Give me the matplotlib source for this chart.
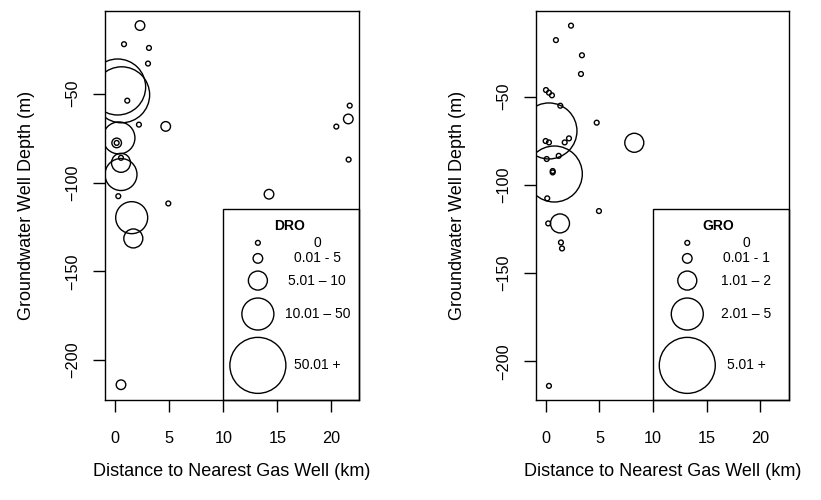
import matplotlib
matplotlib.use("Agg")
import matplotlib.pyplot as plt
from matplotlib.patches import Rectangle

plt.rcParams["font.family"] = ["Liberation Sans", "DejaVu Sans"]

# ── Data ──────────────────────────────────────────────────────────────────────
# category index: 0 = zero, 1..4 = increasing concentration class

dro_dist = [2.29, 0.81, 3.12, 3.03, 0.22, 0.59, 1.11, 2.19, 4.67, 0.34, 0.13, 0.13,
            0.53, 0.53, 0.53, 0.28, 4.91, 1.52, 1.67, 0.53, 21.70, 21.57, 20.46,
            21.60, 14.23]
dro_depth = [-11.6, -22.1, -24.2, -33.0, -46.2, -50.6, -53.9, -67.4, -68.4, -74.9,
             -77.7, -77.7, -86.1, -88.9, -95.5, -107.7, -111.8, -119.8, -131.5,
             -213.9, -56.7, -64.2, -68.5, -87.1, -106.6]
dro_class = [1, 0, 0, 0, 4, 4, 0, 0, 1, 3, 1, 0, 0, 2, 3, 0, 0, 3, 2, 1, 0, 1, 0, 0, 1]
dro_labels = ["0", "0.01 - 5", "5.01 \u2013 10", "10.01 \u2013 50", "50.01 +"]

gro_dist = [2.34, 0.93, 3.36, 3.27, 0.00, 0.28, 0.56, 1.34, 0.28, -0.03, 0.28, 1.75,
            2.15, 4.74, 8.25, 0.78, 0.07, 1.19, 0.63, 0.63, 0.12, 4.95, 0.21, 1.31,
            1.40, 1.50, 0.28]
gro_depth = [-9.7, -17.9, -26.5, -37.1, -46.2, -47.7, -49.2, -55.1, -69.4, -75.1,
             -75.9, -75.9, -73.6, -64.7, -76.1, -93.8, -85.3, -83.5, -92.1, -92.9,
             -107.6, -114.8, -121.8, -121.8, -132.6, -136.0, -213.9]
gro_class = [0, 0, 0, 0, 0, 0, 0, 0, 4, 0, 0, 0, 0, 0, 2, 4, 0, 0, 0, 0, 0, 0, 0, 2,
             0, 0, 0]
gro_labels = ["0", "0.01 - 1", "1.01 \u2013 2", "2.01 \u2013 5", "5.01 +"]

X_TICKS = [0, 5, 10, 15, 20]
Y_TICKS = [-50, -100, -150, -200]

# ── Style ─────────────────────────────────────────────────────────────────────
RADIUS_PX = [2.4, 4.8, 9.5, 16.0, 28.0]   # circle radius per class, in pixels
DPI = 100
LW = 1.0


def marker_size(cls):
    diam_pt = 2 * RADIUS_PX[cls] * 72 / DPI
    return diam_pt ** 2


def draw_panel(ax, dist, depth, cls, labels, title, xlim, ylim):
    ax.scatter(dist, depth, s=[marker_size(c) for c in cls],
               facecolors="none", edgecolors="black", linewidths=LW)
    ax.set_xlim(*xlim)
    ax.set_ylim(*ylim)
    ax.set_xticks(X_TICKS)
    ax.set_yticks(Y_TICKS)
    ax.set_yticklabels([f"\u2212{abs(v)}" for v in Y_TICKS], rotation=90, va="center")
    ax.tick_params(axis="both", direction="out", length=8.6, width=LW,
                   labelsize=11.7)
    ax.tick_params(axis="x", pad=14)
    ax.tick_params(axis="y", pad=9)
    for sp in ax.spines.values():
        sp.set_linewidth(LW)

    ax.set_xlabel("Distance to Nearest Gas Well (km)", fontsize=13)
    ax.xaxis.set_label_coords(0.5, -0.163)
    ax.set_ylabel("Groundwater Well Depth (m)", fontsize=13, va="center")
    ax.yaxis.set_label_coords(-0.31, 0.5)

    # legend box in the bottom-right corner
    tr = ax.get_xaxis_transform()
    ax.add_patch(Rectangle((10, 0), xlim[1] - 10, 0.49, transform=tr,
                           fill=False, lw=LW, ec="black", clip_on=False))
    ax.text(16.1, 0.448, title, transform=tr, ha="center", va="center",
            fontsize=10, fontweight="bold")
    item_y = [0.404, 0.364, 0.307, 0.221, 0.089]
    for i, (yy, lab) in enumerate(zip(item_y, labels)):
        ax.scatter([13.2], [yy], s=marker_size(i), transform=tr,
                   facecolors="none", edgecolors="black", linewidths=LW,
                   clip_on=False)
        ax.text(18.7, yy, lab, transform=tr, ha="center", va="center", fontsize=10)


fig = plt.figure(figsize=(8.21, 5.0), dpi=DPI)
ax1 = fig.add_axes([105 / 821, 0.2, 254 / 821, 389 / 500])
ax2 = fig.add_axes([536 / 821, 0.2, 253 / 821, 389 / 500])

draw_panel(ax1, dro_dist, dro_depth, dro_class, dro_labels, "DRO",
           (-0.95, 22.56), (-222.5, -3.4))
draw_panel(ax2, gro_dist, gro_depth, gro_class, gro_labels, "GRO",
           (-0.93, 22.7), (-221.9, -1.4))

fig.savefig("out.png", dpi=DPI)
